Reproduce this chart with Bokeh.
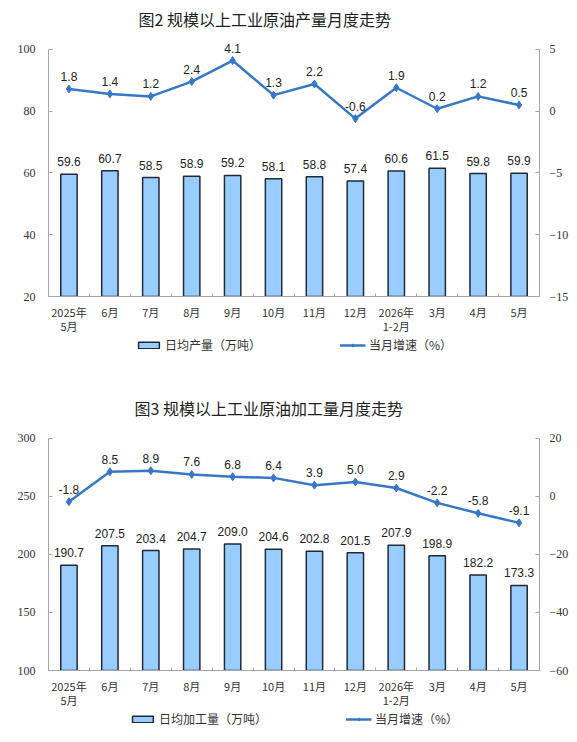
from bokeh.plotting import figure
from bokeh.models import (Range1d, LinearAxis, FixedTicker, ColumnDataSource,
                          Legend, LegendItem)
from bokeh.layouts import column
from bokeh.embed import file_html
from bokeh.resources import INLINE
from bokeh.core.properties import value

months = ["2025年\n5月", "6月", "7月", "8月", "9月", "10月", "11月", "12月",
          "2026年\n1-2月", "3月", "4月", "5月"]

crude_output = [59.6, 60.7, 58.5, 58.9, 59.2, 58.1, 58.8, 57.4, 60.6, 61.5, 59.8, 59.9]
crude_growth = [1.8, 1.4, 1.2, 2.4, 4.1, 1.3, 2.2, -0.6, 1.9, 0.2, 1.2, 0.5]

refine_output = [190.7, 207.5, 203.4, 204.7, 209.0, 204.6, 202.8, 201.5, 207.9, 198.9, 182.2, 173.3]
refine_growth = [-1.8, 8.5, 8.9, 7.6, 6.8, 6.4, 3.9, 5.0, 2.9, -2.2, -5.8, -9.1]

title1 = "图2  规模以上工业原油产量月度走势"
title2 = "图3  规模以上工业原油加工量月度走势"
legend_bar1 = "日均产量（万吨）"
legend_bar2 = "日均加工量（万吨）"
legend_line = "当月增速（%）"

left_ticks1 = [20, 40, 60, 80, 100]
right_ticks1 = [-15, -10, -5, 0, 5]
left_ticks2 = [100, 150, 200, 250, 300]
right_ticks2 = [-60, -40, -20, 0, 20]

BAR_FILL = "#99CCFF"
BAR_LINE = "#1F2A36"
LINE_COL = "#3777C8"
AXIS_COL = "#A6A6A6"
TXT = "#222222"
CJK = "Noto Sans CJK SC"
NUM = "Liberation Sans"
W = 572


def bar_style():
    return dict(fill_color=BAR_FILL, line_color=BAR_LINE, line_width=1.5)


def line_style():
    return dict(line_color=LINE_COL, line_width=2.5)


def mark_style():
    return dict(marker="diamond", size=8, fill_color=LINE_COL, line_color=LINE_COL)


def make_source(bars, growth):
    return ColumnDataSource(dict(x=list(range(len(months))), bar=bars, g=growth,
                                 bl=[f"{v:.1f}" for v in bars],
                                 gl=[f"{v:.1f}" for v in growth]))


def make_chart(title, src, lt, rt, height, axis_px, left_border, title_offset):
    x = list(range(len(months)))
    ext = 14.0 / axis_px  # extra headroom above the axis top (fraction of span)
    lspan = lt[-1] - lt[0]
    rspan = rt[-1] - rt[0]
    p = figure(width=W, height=height, output_backend="svg", toolbar_location=None,
               x_range=Range1d(-0.5, len(months) - 0.5),
               y_range=Range1d(lt[0], lt[-1] + lspan * ext),
               min_border_left=left_border, min_border_right=W - left_border - 494,
               min_border_top=35, min_border_bottom=30)
    p.outline_line_color = None
    p.xgrid.visible = False
    p.ygrid.visible = False

    p.title.text = title
    p.title.align = "left"
    p.title.offset = title_offset
    p.title.text_font = CJK
    p.title.text_font_size = "16px"
    p.title.text_font_style = "normal"
    p.title.text_color = TXT
    p.title.standoff = 9

    p.extra_y_ranges = {"r": Range1d(rt[0], rt[-1] + rspan * ext)}

    p.vbar(x="x", top="bar", bottom=lt[0], width=0.4, source=src, **bar_style())
    p.line(x="x", y="g", source=src, y_range_name="r", **line_style())
    p.scatter(x="x", y="g", source=src, y_range_name="r", **mark_style())

    p.text(x="x", y="bar", text="bl", source=src, text_align="center",
           text_baseline="bottom", y_offset=-8,
           text_font=value(NUM), text_font_size="12px", text_color=TXT)
    p.text(x="x", y="g", text="gl", source=src, y_range_name="r",
           text_align="center", text_baseline="bottom", y_offset=-8,
           text_font=value(NUM), text_font_size="12px", text_color=TXT)

    xa = p.xaxis[0]
    xa.ticker = FixedTicker(ticks=x, minor_ticks=[i + 0.5 for i in range(len(months) - 1)])
    xa.major_label_overrides = {i: m for i, m in enumerate(months)}
    xa.major_tick_in = 0
    xa.major_tick_out = 0
    xa.minor_tick_in = 3
    xa.minor_tick_out = 0
    xa.minor_tick_line_color = AXIS_COL
    xa.axis_line_color = AXIS_COL
    xa.major_label_text_font = CJK
    xa.major_label_text_font_size = "11px"
    xa.major_label_text_line_height = 0.9
    xa.major_label_text_color = "#333333"
    xa.major_label_standoff = 7

    ya = p.yaxis[0]
    ya.ticker = FixedTicker(ticks=lt)
    ya.bounds = (lt[0], lt[-1])
    ya.major_tick_in = 4
    ya.major_tick_out = 0
    ya.minor_tick_line_color = None
    ya.axis_line_color = AXIS_COL
    ya.major_tick_line_color = AXIS_COL
    ya.major_label_text_font = "Liberation Serif"
    ya.major_label_text_font_size = "12px"
    ya.major_label_text_color = "#333333"
    ya.major_label_standoff = 13

    ra = LinearAxis(y_range_name="r", ticker=FixedTicker(ticks=rt), bounds=(rt[0], rt[-1]))
    ra.major_tick_in = 4
    ra.major_tick_out = 0
    ra.minor_tick_line_color = None
    ra.axis_line_color = AXIS_COL
    ra.major_tick_line_color = AXIS_COL
    ra.major_label_text_font = "Liberation Serif"
    ra.major_label_text_font_size = "12px"
    ra.major_label_text_color = "#333333"
    ra.major_label_standoff = 10
    p.add_layout(ra, "right")
    return p


def make_legend(src, bar_name, height):
    # legend strip: same series attached as hidden renderers, only their legend swatches show
    q = figure(width=W, height=height, output_backend="svg", toolbar_location=None,
               x_range=Range1d(-0.5, len(months) - 0.5), y_range=Range1d(0, 1),
               x_axis_location=None, y_axis_location=None, min_border=0,
               min_border_right=16)
    q.outline_line_color = None
    q.xgrid.visible = False
    q.ygrid.visible = False
    b = q.vbar(x="x", top="bar", width=0.4, source=src, visible=False, **bar_style())
    l = q.line(x="x", y="g", source=src, visible=False, **line_style())
    m = q.scatter(x="x", y="g", source=src, visible=False, **mark_style())
    legend = Legend(items=[LegendItem(label=bar_name, renderers=[b]),
                           LegendItem(label=legend_line, renderers=[l, m])],
                    orientation="horizontal", location="top_center",
                    border_line_color=None, background_fill_alpha=0,
                    inactive_fill_alpha=0,
                    label_text_font=CJK, label_text_font_size="12px",
                    label_text_color="#333333",
                    spacing=78, glyph_width=26, glyph_height=8, label_standoff=4,
                    margin=0, padding=0)
    q.add_layout(legend)
    return q


s1 = make_source(crude_output, crude_growth)
s2 = make_source(refine_output, refine_growth)

p1 = make_chart(title1, s1, left_ticks1, right_ticks1, 336, 248, 45, 90)
l1 = make_legend(s1, legend_bar1, 53)
p2 = make_chart(title2, s2, left_ticks2, right_ticks2, 321, 233, 48, 86)
l2 = make_legend(s2, legend_bar2, 32)

layout = column(p1, l1, p2, l2, spacing=0)
open("out.html", "w").write(file_html(layout, INLINE))
